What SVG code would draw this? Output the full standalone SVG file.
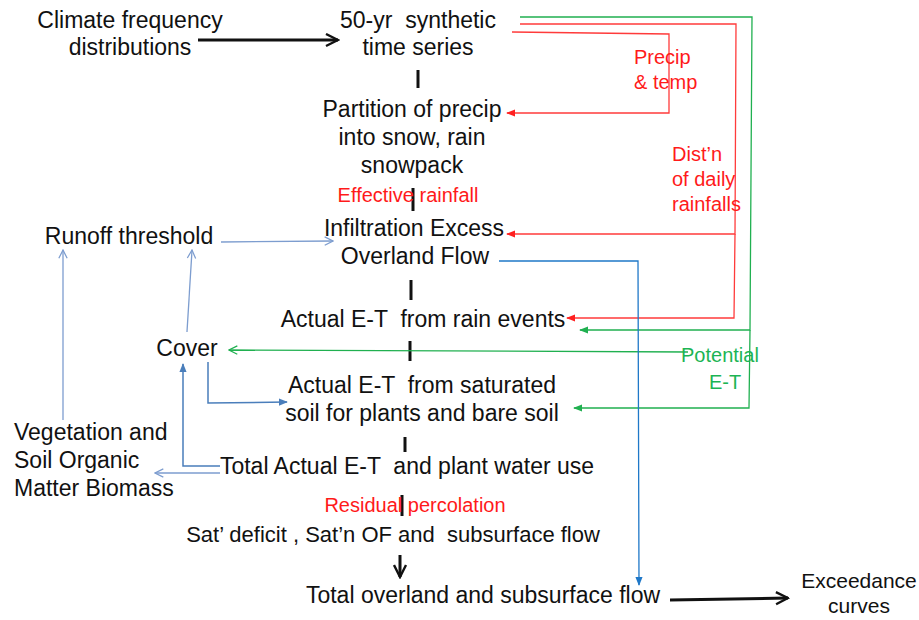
<svg xmlns="http://www.w3.org/2000/svg" width="919" height="620" viewBox="0 0 919 620">
<style>
text{font-family:"Liberation Sans","DejaVu Sans",sans-serif;white-space:pre}
.t{font-size:23px;fill:#111;text-anchor:middle}
.tl{font-size:23px;fill:#111;text-anchor:start}
.r{font-size:20px;fill:#ff1a1a;text-anchor:middle}
.rl{font-size:20px;fill:#ff1a1a;text-anchor:start}
.g{font-size:20px;fill:#1cb454;text-anchor:start}
.gc{font-size:20px;fill:#1cb454;text-anchor:middle}
.tick{stroke:#111;stroke-width:3;fill:none}
.bk{stroke:#111;stroke-width:3;fill:none}
.red{stroke:#ff3b3b;stroke-width:1.3;fill:none}
.grn{stroke:#20b050;stroke-width:1.3;fill:none}
.blu{stroke:#1f78c8;stroke-width:1.3;fill:none}
.lb{stroke:#7d9dcf;stroke-width:1.3;fill:none}
.mb{stroke:#4a7ebb;stroke-width:1.5;fill:none}
</style>
<defs>
<marker id="aBk" viewBox="0 0 10 10" refX="9" refY="5" markerWidth="5" markerHeight="5" orient="auto" markerUnits="strokeWidth"><path d="M1,1 L9,5 L1,9" fill="none" stroke="#111" stroke-width="1.6"/></marker>
<marker id="aRed" viewBox="0 0 10 10" refX="9" refY="5" markerWidth="7" markerHeight="7" orient="auto" markerUnits="strokeWidth"><path d="M0,1 L10,5 L0,9 z" fill="#ff2020"/></marker>
<marker id="aGrn" viewBox="0 0 10 10" refX="9" refY="5" markerWidth="7" markerHeight="7" orient="auto" markerUnits="strokeWidth"><path d="M0,1 L10,5 L0,9 z" fill="#20b050"/></marker>
<marker id="aBlu" viewBox="0 0 10 10" refX="9" refY="5" markerWidth="7" markerHeight="7" orient="auto" markerUnits="strokeWidth"><path d="M0,1 L10,5 L0,9 z" fill="#1f78c8"/></marker>
<marker id="aMb" viewBox="0 0 10 10" refX="9" refY="5" markerWidth="6" markerHeight="6" orient="auto" markerUnits="strokeWidth"><path d="M0,1 L10,5 L0,9 z" fill="#4a7ebb"/></marker>
<marker id="aLb" viewBox="0 0 10 10" refX="9" refY="5" markerWidth="8" markerHeight="8" orient="auto" markerUnits="strokeWidth"><path d="M1,1 L9,5 L1,9" fill="none" stroke="#7d9dcf" stroke-width="1.2"/></marker>
<marker id="aGo" viewBox="0 0 10 10" refX="9" refY="5" markerWidth="8" markerHeight="8" orient="auto" markerUnits="strokeWidth"><path d="M1,1 L9,5 L1,9" fill="none" stroke="#20b050" stroke-width="1.2"/></marker>
</defs>

<g id="connectors">
<line class="bk" x1="198" y1="40" x2="338" y2="40" marker-end="url(#aBk)"/>
<line class="bk" x1="670" y1="600" x2="788" y2="598" marker-end="url(#aBk)"/>
<line class="bk" x1="400" y1="555" x2="400" y2="577" marker-end="url(#aBk)"/>
<line class="tick" x1="418" y1="70" x2="418" y2="88"/>
<line class="tick" x1="413" y1="188" x2="413" y2="211"/>
<line class="tick" x1="411" y1="280" x2="411" y2="300"/>
<line class="tick" x1="410" y1="341" x2="410" y2="361"/>
<line class="tick" x1="405" y1="437" x2="405" y2="452"/>
<line class="tick" x1="402" y1="495" x2="402" y2="516"/>
<polyline class="red" points="520,24 736,24 735,234 507,234" marker-end="url(#aRed)"/>
<polyline class="red" points="735,234 734,318 567,318" marker-end="url(#aRed)"/>
<polyline class="red" points="512,32 669,34 669,113 507,113" marker-end="url(#aRed)"/>
<polyline class="grn" points="520,17 752,17 750,330 580,330" marker-end="url(#aGrn)"/>
<polyline class="grn" points="750,330 749,408 574,408" marker-end="url(#aGrn)"/>
<line class="grn" x1="688" y1="352" x2="229" y2="350" marker-end="url(#aGo)"/>
<polyline class="blu" points="499,261 638,261 639,585" marker-end="url(#aBlu)"/>
<line class="lb" x1="221" y1="242" x2="333" y2="241" marker-end="url(#aLb)"/>
<line class="lb" x1="63" y1="420" x2="63" y2="250" marker-end="url(#aLb)"/>
<line class="lb" x1="187" y1="332" x2="192" y2="250" marker-end="url(#aLb)"/>
<line class="lb" x1="220" y1="473" x2="155" y2="473" marker-end="url(#aLb)"/>
<polyline class="mb" points="220,466 183,466 183,364" marker-end="url(#aMb)"/>
<polyline class="mb" points="208,362 208,403 287,402" marker-end="url(#aMb)"/>
</g>

<g id="n-climate"><text class="t" x="130" y="28">Climate frequency</text><text class="t" x="130" y="55">distributions</text></g>
<g id="n-synthetic"><text class="t" x="418" y="28">50-yr  synthetic</text><text class="t" x="418" y="55">time series</text></g>
<g id="n-partition"><text class="t" x="412" y="117">Partition of precip</text><text class="t" x="412" y="145">into snow, rain</text><text class="t" x="412" y="173">snowpack</text></g>
<g id="l-effective"><text class="r" x="408" y="202">Effective rainfall</text></g>
<g id="n-infiltration"><text class="t" x="414" y="236">Infiltration Excess</text><text class="t" x="415" y="264">Overland Flow</text></g>
<g id="n-et-rain"><text class="t" x="423" y="327">Actual E-T  from rain events</text></g>
<g id="n-et-sat"><text class="t" x="422" y="393">Actual E-T  from saturated</text><text class="t" x="422" y="421">soil for plants and bare soil</text></g>
<g id="n-total-et"><text class="t" x="407" y="474">Total Actual E-T  and plant water use</text></g>
<g id="l-residual"><text class="r" x="415" y="512">Residual percolation</text></g>
<g id="n-satdef"><text class="t" x="393" y="542" style="font-size:22px">Sat’ deficit , Sat’n OF and  subsurface flow</text></g>
<g id="n-totalflow"><text class="t" x="483" y="603">Total overland and subsurface flow</text></g>
<g id="n-exceed"><text class="t" x="859" y="588" style="font-size:21px">Exceedance</text><text class="t" x="859" y="613" style="font-size:21px">curves</text></g>
<g id="n-runoff"><text class="t" x="129" y="244">Runoff threshold</text></g>
<g id="n-cover"><text class="t" x="187" y="356">Cover</text></g>
<g id="n-veg"><text class="tl" x="14" y="440">Vegetation and</text><text class="tl" x="14" y="468">Soil Organic</text><text class="tl" x="14" y="496">Matter Biomass</text></g>
<g id="l-precip"><text class="rl" x="634" y="64">Precip</text><text class="rl" x="634" y="89">&amp; temp</text></g>
<g id="l-dist"><text class="rl" x="672" y="161">Dist’n</text><text class="rl" x="672" y="186">of daily</text><text class="rl" x="672" y="211">rainfalls</text></g>
<g id="l-pet"><text class="g" x="681" y="362">Potential</text><text class="gc" x="725" y="389">E-T</text></g>
</svg>
